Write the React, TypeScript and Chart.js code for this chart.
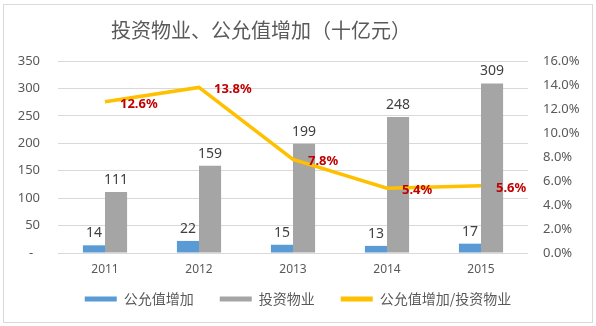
import React, { useEffect, useRef } from 'react';
import { Chart, registerables } from 'chart.js';

Chart.register(...registerables);

const titleText = '投资物业、公允值增加（十亿元）';
const categories = ['2011', '2012', '2013', '2014', '2015'];
const fairValueGain = [14, 22, 15, 13, 17];
const investmentProperty = [111, 159, 199, 248, 309];
const ratioPct = [12.6, 13.8, 7.8, 5.4, 5.6];
const seriesNames = ['公允值增加', '投资物业', '公允值增加/投资物业'];

const LATIN = '"Noto Sans", "Liberation Sans", sans-serif';
const CJK = '"Noto Sans CJK SC", "Noto Sans", sans-serif';

const framePlugin = {
  id: 'frame',
  beforeDraw(chart: any) {
    const { ctx, width, height } = chart;
    ctx.save();
    ctx.fillStyle = '#ffffff';
    ctx.fillRect(0, 0, width, height);
    ctx.strokeStyle = '#d9d9d9';
    ctx.lineWidth = 1;
    ctx.strokeRect(3.5, 4.5, width - 7, height - 8);
    ctx.restore();
  },
  afterDraw(chart: any) {
    const { ctx } = chart;
    ctx.save();
    ctx.font = `20px ${CJK}`;
    ctx.fillStyle = '#595959';
    ctx.textAlign = 'center';
    ctx.textBaseline = 'middle';
    ctx.fillText(titleText, 261, 30);
    ctx.restore();
  },
};

const labelsPlugin = {
  id: 'valueLabels',
  afterDatasetsDraw(chart: any) {
    const { ctx } = chart;
    ctx.save();
    [0, 1].forEach((di) => {
      const meta = chart.getDatasetMeta(di);
      const data = chart.data.datasets[di].data;
      ctx.font = `14px ${LATIN}`;
      ctx.fillStyle = '#404040';
      ctx.textAlign = 'center';
      ctx.textBaseline = 'bottom';
      meta.data.forEach((el: any, i: number) => {
        ctx.fillText(String(data[i]), el.x, el.y - 5);
      });
    });
    const lm = chart.getDatasetMeta(2);
    ctx.font = `bold 13px ${LATIN}`;
    ctx.fillStyle = '#c00000';
    ctx.textAlign = 'left';
    ctx.textBaseline = 'middle';
    lm.data.forEach((el: any, i: number) => {
      ctx.fillText(ratioPct[i].toFixed(1) + '%', el.x + 15, el.y + 2);
    });
    ctx.restore();
  },
};

export default function App() {
  const ref = useRef<HTMLCanvasElement>(null);
  useEffect(() => {
    const canvas = ref.current!;
    const chart = new Chart(canvas, {
      type: 'bar',
      data: {
        labels: categories,
        datasets: [
          {
            type: 'bar',
            label: seriesNames[0],
            data: fairValueGain,
            backgroundColor: '#5b9bd5',
            yAxisID: 'y',
            categoryPercentage: 0.47,
            barPercentage: 1,
            order: 1,
          },
          {
            type: 'bar',
            label: seriesNames[1],
            data: investmentProperty,
            backgroundColor: '#a5a5a5',
            yAxisID: 'y',
            categoryPercentage: 0.47,
            barPercentage: 1,
            order: 1,
          },
          {
            type: 'line',
            label: seriesNames[2],
            data: ratioPct,
            borderColor: '#ffc000',
            backgroundColor: '#ffc000',
            borderWidth: 3.5,
            pointRadius: 0,
            tension: 0,
            yAxisID: 'y1',
            order: 0,
          },
        ],
      } as any,
      options: {
        responsive: false,
        animation: false,
        devicePixelRatio: 1,
        layout: { padding: { left: 10, right: 10, top: 61, bottom: 10 } },
        plugins: {
          title: { display: false },
          tooltip: { enabled: false },
          legend: {
            display: true,
            position: 'bottom',
            labels: {
              boxWidth: 32,
              boxHeight: 5,
              padding: 12,
              color: '#595959',
              font: { family: CJK, size: 14 },
              sort: (a: any, b: any) => a.datasetIndex - b.datasetIndex,
              generateLabels: (c: any) =>
                Chart.defaults.plugins.legend.labels
                  .generateLabels(c)
                  .map((l: any) => ({
                    ...l,
                    lineWidth: 0,
                    text: l.datasetIndex < 2 ? l.text + '\u3000' : l.text,
                  })),
            },
          },
        },
        scales: {
          x: {
            grid: { display: false, drawTicks: false },
            border: { display: false },
            ticks: { color: '#595959', font: { family: LATIN, size: 12 }, padding: 9 },
            afterFit: (s: any) => {
              s.height = 27;
            },
          },
          y: {
            position: 'left',
            min: 0,
            max: 350,
            grid: { color: '#d9d9d9', drawTicks: false },
            border: { display: false },
            ticks: {
              stepSize: 50,
              padding: 18,
              color: '#595959',
              font: { family: LATIN, size: 13 },
              callback: (v: any) => (v === 0 ? '-  ' : String(v)),
            },
            afterFit: (s: any) => {
              s.width = 48;
            },
          },
          y1: {
            position: 'right',
            min: 0,
            max: 16,
            grid: { display: false, drawTicks: false },
            border: { display: false },
            ticks: {
              stepSize: 2,
              padding: 15,
              color: '#595959',
              font: { family: LATIN, size: 13 },
              callback: (v: any) => Number(v).toFixed(1) + '%',
            },
            afterFit: (s: any) => {
              s.width = 58;
            },
          },
        },
      } as any,
      plugins: [framePlugin, labelsPlugin],
    });
    return () => chart.destroy();
  }, []);
  return (
    <div style={{ position: 'fixed', left: 0, top: 0, width: 596, height: 326 }}>
      <canvas ref={ref} width={596} height={326} style={{ display: 'block' }} />
    </div>
  );
}
